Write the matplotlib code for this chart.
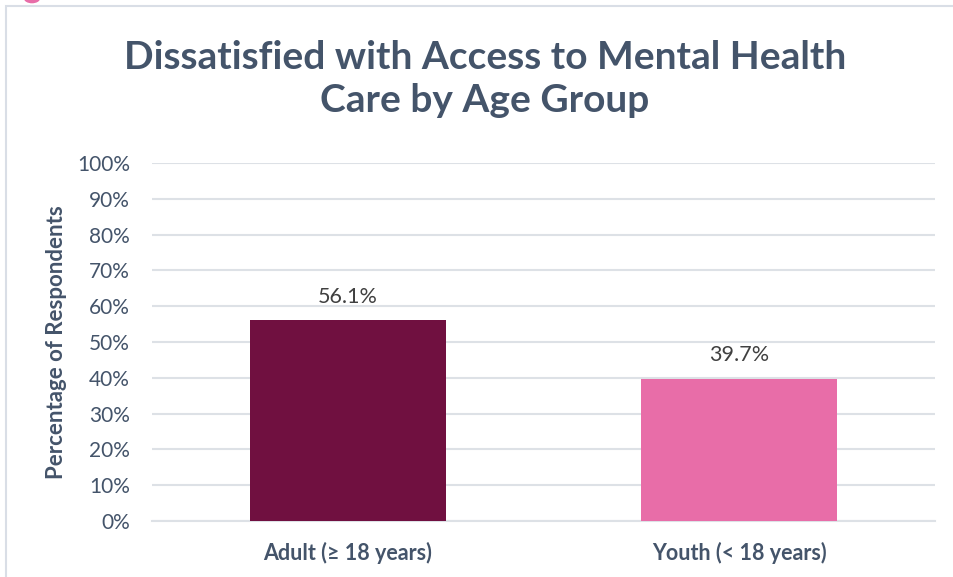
import matplotlib.pyplot as plt
from matplotlib.patches import Rectangle, Circle

# Dados do gráfico
grupos = ['Adult (≥ 18 years)', 'Youth (< 18 years)']
valores = [56.1, 39.7]
cores = ['#701040', '#E86DA8']
rotulos_y = ['0%', '10%', '20%', '30%', '40%', '50%', '60%', '70%', '80%', '90%', '100%']
ticks_y = [0, 10, 20, 30, 40, 50, 60, 70, 80, 90, 100]

plt.rcParams['font.family'] = ['Lato', 'DejaVu Sans']
texto = '#44546A'

fig = plt.figure(figsize=(9.54, 5.77), dpi=100)
ax = fig.add_axes([152/954, 1 - 521/577, (935-152)/954, (521-163)/577])

x = range(len(grupos))
barras = ax.bar(x, valores, width=0.5, color=cores, zorder=3)

# Rótulos de valor acima das barras
for b, v in zip(barras, valores):
    ax.text(b.get_x() + b.get_width()/2, v + 3.8, '%.1f%%' % v,
            ha='center', va='bottom', fontsize=15.5, color='#404040')

ax.set_xlim(-0.5, 1.5)
ax.set_ylim(0, 100)
ax.set_yticks(ticks_y)
ax.set_yticklabels(rotulos_y, fontsize=15, color=texto)
ax.set_xticks(list(x))
ax.set_xticklabels(grupos, fontsize=15.5, fontweight='bold', color=texto)
ax.tick_params(axis='both', length=0)
ax.tick_params(axis='y', pad=16)
ax.tick_params(axis='x', pad=15)

ax.grid(axis='y', color='#DDE1E6', linewidth=1.5, zorder=0)
for s in ['top', 'right', 'left']:
    ax.spines[s].set_visible(False)
ax.spines['bottom'].set_color('#DDE1E6')
ax.spines['bottom'].set_linewidth(1.5)

ax.set_ylabel('Percentage of Respondents', fontsize=16, fontweight='bold', color=texto)
ax.yaxis.set_label_coords(-0.109, 0.5)

fig.text(485/954, 1 - 79/577, 'Dissatisfied with Access to Mental Health\nCare by Age Group',
         ha='center', va='center', fontsize=28, fontweight='bold', color=texto,
         linespacing=1.3)

# Moldura do painel e marcador no canto
fig.add_artist(Rectangle((6/954, -0.1), 1.2, 1 - 6/577 + 0.1, transform=fig.transFigure,
                         fill=False, edgecolor='#D9DEE6', linewidth=1.5))
fig.add_artist(Circle((32/954, 1 + 2/577), 0.008, transform=fig.transFigure,
                      color='#E86DA8', clip_on=False))

fig.savefig('out.png', dpi=100)
